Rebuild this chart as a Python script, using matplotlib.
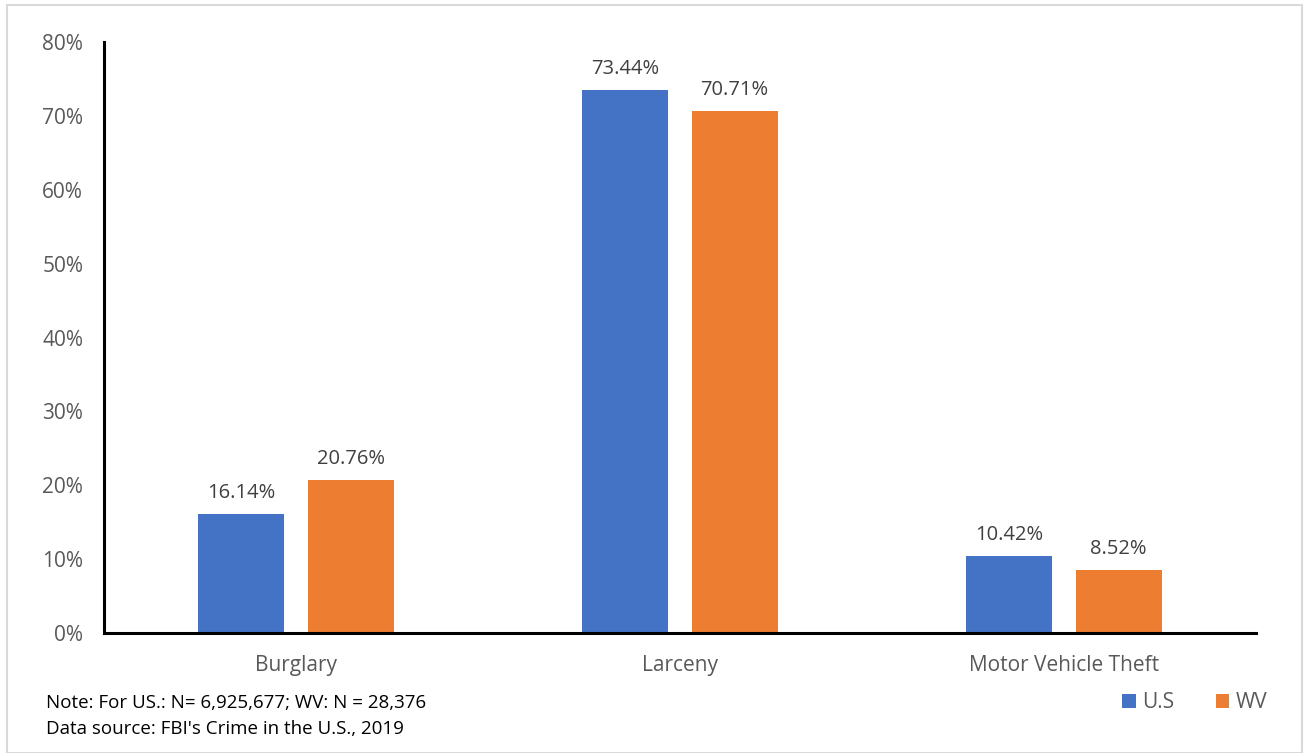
import numpy as np
import matplotlib.pyplot as plt
from matplotlib.patches import Rectangle

plt.rcParams['font.family'] = ['Open Sans', 'DejaVu Sans']

# datos
categorias = ['Burglary', 'Larceny', 'Motor Vehicle Theft']
us = [16.14, 73.44, 10.42]
wv = [20.76, 70.71, 8.52]
series = ['U.S', 'WV']
colores = ['#4472C4', '#ED7D31']
gris = '#595959'

fig = plt.figure(figsize=(13.04, 7.53), dpi=100)
fig.patches.append(Rectangle((7/1304, 0), 1295/1304, 1 - 5/753, transform=fig.transFigure,
                             fill=False, edgecolor='#D9D9D9', linewidth=1.5))

ax = fig.add_axes([104/1304, 1 - 633/753, (1256 - 104)/1304, (633 - 42)/753])

x = np.arange(len(categorias))
ancho = 0.224
off = 0.142
b1 = ax.bar(x - off, us, ancho, color=colores[0], label=series[0])
b2 = ax.bar(x + off, wv, ancho, color=colores[1], label=series[1])

for barras, vals in [(b1, us), (b2, wv)]:
    for b, v in zip(barras, vals):
        ax.text(b.get_x() + b.get_width() / 2, v + 1.5, f'{v:.2f}%', ha='center', va='bottom',
                fontsize=14.5, color='#404040')

ax.set_xlim(-0.5, 2.5)
ax.set_ylim(0, 80)
ax.set_yticks(np.arange(0, 81, 10))
ax.set_yticklabels([f'{v}%' for v in range(0, 81, 10)])
ax.set_xticks(x)
ax.set_xticklabels(categorias)
ax.tick_params(length=0, labelsize=15, colors=gris)
ax.tick_params(axis='y', pad=15)
ax.tick_params(axis='x', pad=16)

for s in ['top', 'right']:
    ax.spines[s].set_visible(False)
for s in ['left', 'bottom']:
    ax.spines[s].set_linewidth(2.2)
    ax.spines[s].set_color('black')

fig.text(46/1304, 1 - 703/753, 'Note: For US.: N= 6,925,677; WV: N = 28,376', fontsize=13.5,
         va='center', color='black')
fig.text(46/1304, 1 - 729/753, "Data source: FBI's Crime in the U.S., 2019", fontsize=13.5,
         va='center', color='black')

fig.legend(handles=[b1, b2], loc='center right', bbox_to_anchor=(1286/1304, 1 - 703/753),
           ncol=2, frameon=False, fontsize=15, labelcolor=gris, handlelength=0.65,
           handleheight=0.65, handletextpad=0.3, columnspacing=2.0)

fig.savefig('out.png', dpi=100)
